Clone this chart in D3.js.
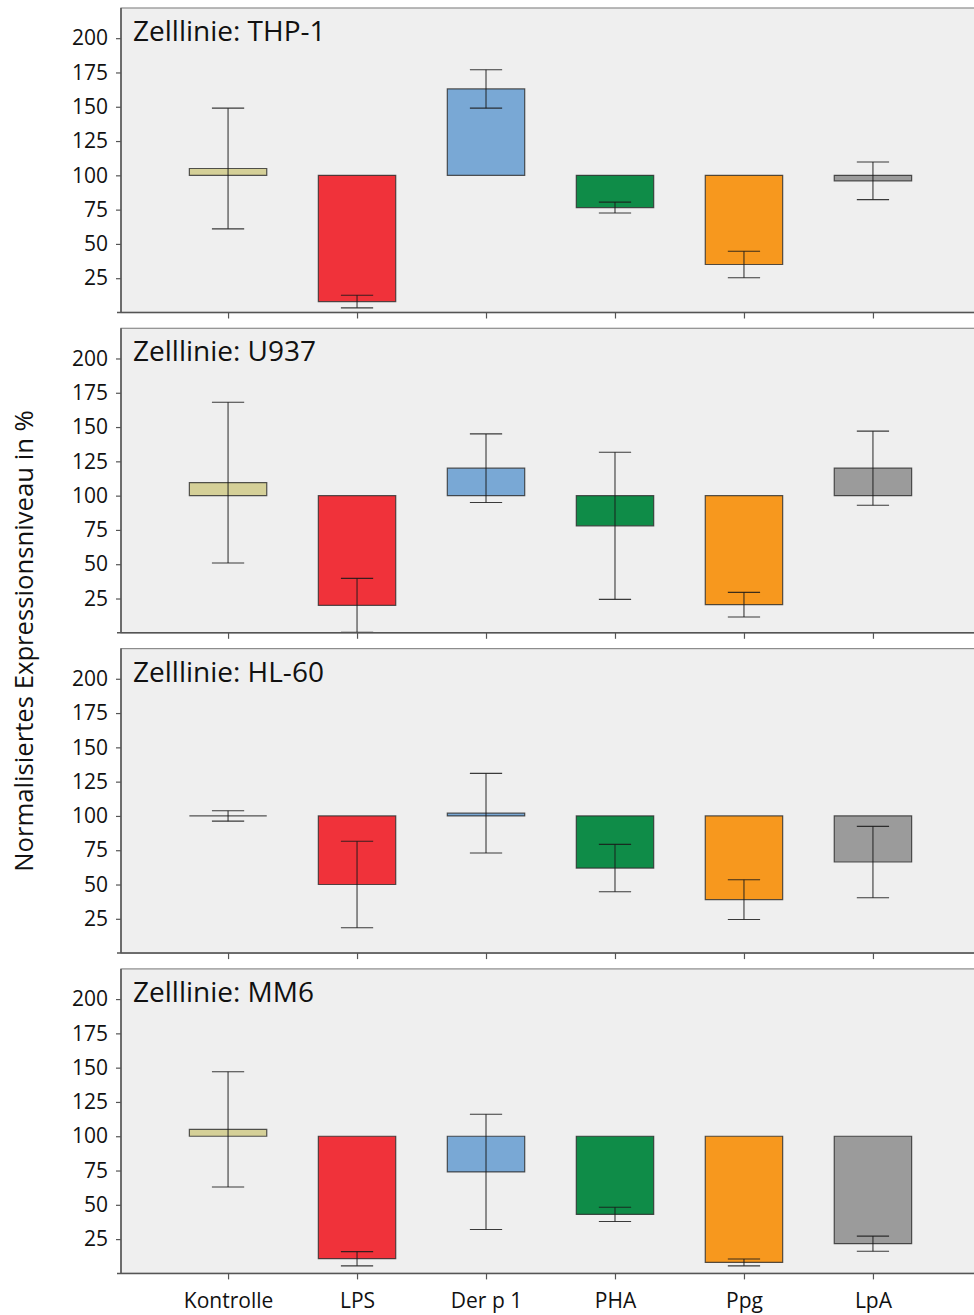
<!DOCTYPE html>
<html lang="de">
<head>
  <meta charset="UTF-8">
  <title>Normalisiertes Expressionsniveau</title>
  <style>
    body { margin: 0; background: #fff; }
    svg { display: block; font-family: "Open Sans", sans-serif; }
  </style>
</head>
<body>
<script src="https://d3js.org/d3.v7.min.js"></script>
<div id="chart"></div>
<script>
    // data
    const categories = ["Kontrolle", "LPS", "Der p 1", "PHA", "Ppg", "LpA"];
    const barColors = ["#d5d098", "#f0323a", "#79a8d5", "#0f8c48", "#f7981e", "#9b9b9b"];
    const cellLines = ["Zelllinie: THP-1", "Zelllinie: U937", "Zelllinie: HL-60", "Zelllinie: MM6"];
    const yTicks = [25, 50, 75, 100, 125, 150, 175, 200];

    const thp1Mean = [105, 8, 163, 76.5, 35, 96];
    const thp1Err  = [44, 4.6, 14, 4, 9.7, 13.7];
    const u937Mean = [109.5, 20, 120, 78, 20.5, 120];
    const u937Err  = [58.6, 19.7, 25, 53.6, 9, 27];
    const hl60Mean = [100, 50, 102, 62, 39, 66.4];
    const hl60Err  = [3.8, 31.5, 29, 17.3, 14.5, 26];
    const mm6Mean  = [105, 10.7, 74, 43, 8, 21.7];
    const mm6Err   = [42, 5.2, 42, 5.2, 2.5, 5.5];

    const panels = [
      {title: cellLines[0], mean: thp1Mean, err: thp1Err},
      {title: cellLines[1], mean: u937Mean, err: u937Err},
      {title: cellLines[2], mean: hl60Mean, err: hl60Err},
      {title: cellLines[3], mean: mm6Mean,  err: mm6Err}
    ];

    // dimensions
    const W = 974, H = 1315;
    const plotLeft = 121, plotRight = 980;
    const panelTop0 = 8, panelStep = 320.3, panelH = 304.5;
    const baseline = 100;

    const svg = d3.select("#chart").append("svg")
        .attr("width", W)
        .attr("height", H);

    const x = d3.scalePoint()
        .domain(categories)
        .range([plotLeft, plotRight])
        .padding(0.83);
    const barW = x.step() * 0.6;
    const capW = x.step() * 0.25;

    panels.forEach((p, i) => {
      const top = panelTop0 + i * panelStep;
      const bottom = top + panelH;
      const y = d3.scaleLinear().domain([0, 222]).range([bottom, top]);

      const g = svg.append("g").attr("class", "panel");

      g.append("rect")
        .attr("x", plotLeft)
        .attr("y", top)
        .attr("width", plotRight - plotLeft)
        .attr("height", panelH)
        .attr("fill", "#efefef")
        .attr("stroke", "#8c8c8c")
        .attr("stroke-width", 1.2);

      // bars from the 100% baseline
      g.selectAll(".bar")
        .data(p.mean)
        .join("path")
          .attr("class", "bar")
          .attr("d", (d, j) => {
            const x0 = x(categories[j]) - barW / 2;
            const y0 = y(baseline), y1 = y(d);
            return `M${x0},${y0}H${x0 + barW}V${y1}H${x0}Z`;
          })
          .attr("fill", (d, j) => barColors[j])
          .attr("stroke", "#2a2a2a")
          .attr("stroke-opacity", 0.8)
          .attr("stroke-width", 1.2);

      // error bars
      const eb = g.selectAll(".err")
        .data(p.mean.map((m, j) => ({m, e: p.err[j], c: categories[j]})))
        .join("g")
          .attr("class", "err")
          .attr("stroke", "#1a1a1a")
          .attr("stroke-opacity", 0.85)
          .attr("stroke-width", 1.1);
      eb.append("line")
        .attr("x1", d => x(d.c)).attr("x2", d => x(d.c))
        .attr("y1", d => y(d.m + d.e)).attr("y2", d => y(Math.max(0, d.m - d.e)));
      eb.append("line")
        .attr("x1", d => x(d.c) - capW / 2).attr("x2", d => x(d.c) + capW / 2)
        .attr("y1", d => y(d.m + d.e)).attr("y2", d => y(d.m + d.e));
      eb.append("line")
        .attr("x1", d => x(d.c) - capW / 2).attr("x2", d => x(d.c) + capW / 2)
        .attr("y1", d => y(Math.max(0, d.m - d.e))).attr("y2", d => y(Math.max(0, d.m - d.e)));

      // axes
      const yAxis = g.append("g")
        .attr("transform", `translate(${plotLeft},0)`)
        .call(d3.axisLeft(y).tickValues(yTicks).tickSize(5).tickPadding(8));
      yAxis.select(".domain").attr("d", `M0,${top}V${bottom}`);

      const xAxis = g.append("g")
        .attr("transform", `translate(0,${bottom})`)
        .call(d3.axisBottom(x).tickSize(6).tickPadding(14)
          .tickFormat(i === panels.length - 1 ? null : ""));
      xAxis.select(".domain").attr("d", `M${plotLeft - 4},0H${plotRight}`);

      [yAxis, xAxis].forEach(a => {
        a.select(".domain").attr("stroke", "#555").attr("stroke-width", 1.5);
        a.selectAll(".tick line").attr("stroke", "#555").attr("stroke-width", 1.2);
        a.selectAll(".tick text")
          .attr("fill", "#111")
          .style("font-family", "'Open Sans', sans-serif")
          .style("font-size", "21px");
      });

      g.append("text")
        .attr("x", plotLeft + 12)
        .attr("y", top + 33)
        .attr("fill", "#111")
        .style("font-size", "28px")
        .text(p.title);
    });

    svg.append("text")
      .attr("transform", `translate(33,641) rotate(-90)`)
      .attr("text-anchor", "middle")
      .attr("fill", "#111")
      .style("font-size", "25.7px")
      .text("Normalisiertes Expressionsniveau in %");
</script>
</body>
</html>
